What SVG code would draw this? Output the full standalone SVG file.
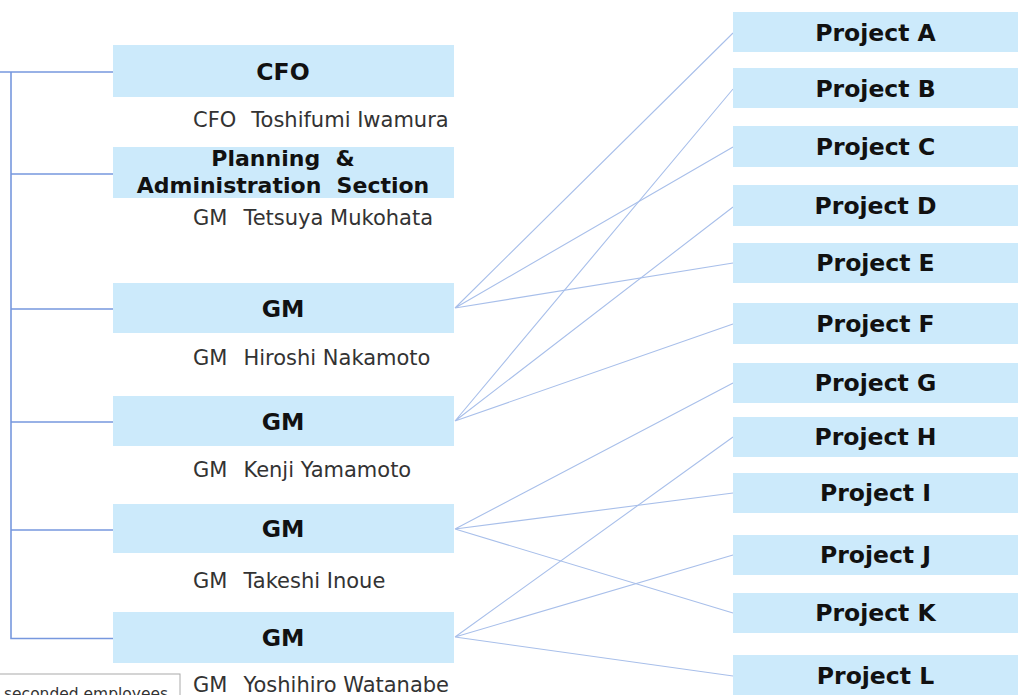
<svg xmlns="http://www.w3.org/2000/svg" width="1022" height="695" viewBox="0 0 1022 695">
  <style>
    .box { fill: #cceafb; }
    .title { font-family: "DejaVu Sans", Verdana, sans-serif; font-weight: bold; font-size: 23.5px; fill: #111; text-anchor: middle; white-space: pre; }
    .title.small { font-size: 22px; }
    .name { font-family: "DejaVu Sans", Verdana, sans-serif; font-size: 21px; fill: #333; }
    .tree { fill: none; stroke: #7798de; stroke-width: 1.6; }
    .link { fill: none; stroke: #a8bfea; stroke-width: 1.1; }
  </style>

  <rect width="1022" height="695" fill="#ffffff"/>

  <g id="connectors">
    <!-- organisation tree -->
    <path class="tree" d="M0 72 H113 M11 72 V638.5 H113 M11 174 H113 M11 309 H113 M11 422 H113 M11 530 H113"/>
    <!-- GM links to projects -->
    <path class="link" d="M455 308 L733 33 M455 308 L733 147 M455 308 L733 263"/>
    <path class="link" d="M455 421 L733 89 M455 421 L733 207 M455 421 L733 324"/>
    <path class="link" d="M455 529 L733 383 M455 529 L733 493 M455 529 L733 613"/>
    <path class="link" d="M455 637 L733 437 M455 637 L733 555 M455 637 L733 676"/>
  </g>

  <g id="cfo">
    <rect class="box" x="113" y="45" width="341" height="52"/>
    <text class="title" x="283" y="80">CFO</text>
    <text class="name" x="193" y="127">CFO<tspan dx="15">Toshifumi Iwamura</tspan></text>
  </g>

  <g id="planning">
    <rect class="box" x="113" y="147" width="341" height="51"/>
    <text class="title small" x="283" y="166">Planning  &amp;</text>
    <text class="title small" x="283" y="193">Administration  Section</text>
    <text class="name" x="193" y="225">GM<tspan dx="16">Tetsuya Mukohata</tspan></text>
  </g>

  <g id="gm1">
    <rect class="box" x="113" y="283" width="341" height="50"/>
    <text class="title" x="283" y="317">GM</text>
    <text class="name" x="193" y="365">GM<tspan dx="16">Hiroshi Nakamoto</tspan></text>
  </g>

  <g id="gm2">
    <rect class="box" x="113" y="396" width="341" height="50"/>
    <text class="title" x="283" y="430">GM</text>
    <text class="name" x="193" y="477">GM<tspan dx="16">Kenji Yamamoto</tspan></text>
  </g>

  <g id="gm3">
    <rect class="box" x="113" y="504" width="341" height="49"/>
    <text class="title" x="283" y="537">GM</text>
    <text class="name" x="193" y="588">GM<tspan dx="16">Takeshi Inoue</tspan></text>
  </g>

  <g id="gm4">
    <rect class="box" x="113" y="612" width="341" height="51"/>
    <text class="title" x="283" y="646">GM</text>
    <text class="name" x="193" y="692">GM<tspan dx="16">Yoshihiro Watanabe</tspan></text>
  </g>

  <g id="seconded">
    <rect x="-1" y="674" width="181" height="30" fill="#ffffff" stroke="#aaaaaa" stroke-width="1"/>
    <text x="4" y="699" font-family="'DejaVu Sans', Verdana, sans-serif" font-size="15.5" fill="#333">seconded employees</text>
  </g>

  <g id="project-a"><rect class="box" x="733" y="12" width="285" height="40"/><text class="title" x="875.5" y="41">Project A</text></g>
  <g id="project-b"><rect class="box" x="733" y="68" width="285" height="40"/><text class="title" x="875.5" y="97">Project B</text></g>
  <g id="project-c"><rect class="box" x="733" y="126" width="285" height="41"/><text class="title" x="875.5" y="155">Project C</text></g>
  <g id="project-d"><rect class="box" x="733" y="185" width="285" height="41"/><text class="title" x="875.5" y="214">Project D</text></g>
  <g id="project-e"><rect class="box" x="733" y="243" width="285" height="40"/><text class="title" x="875.5" y="271">Project E</text></g>
  <g id="project-f"><rect class="box" x="733" y="303" width="285" height="41"/><text class="title" x="875.5" y="332">Project F</text></g>
  <g id="project-g"><rect class="box" x="733" y="363" width="285" height="40"/><text class="title" x="875.5" y="391">Project G</text></g>
  <g id="project-h"><rect class="box" x="733" y="417" width="285" height="40"/><text class="title" x="875.5" y="445">Project H</text></g>
  <g id="project-i"><rect class="box" x="733" y="473" width="285" height="40"/><text class="title" x="875.5" y="501">Project I</text></g>
  <g id="project-j"><rect class="box" x="733" y="535" width="285" height="40"/><text class="title" x="875.5" y="563">Project J</text></g>
  <g id="project-k"><rect class="box" x="733" y="593" width="285" height="40"/><text class="title" x="875.5" y="621">Project K</text></g>
  <g id="project-l"><rect class="box" x="733" y="655" width="285" height="42"/><text class="title" x="875.5" y="684">Project L</text></g>
</svg>
